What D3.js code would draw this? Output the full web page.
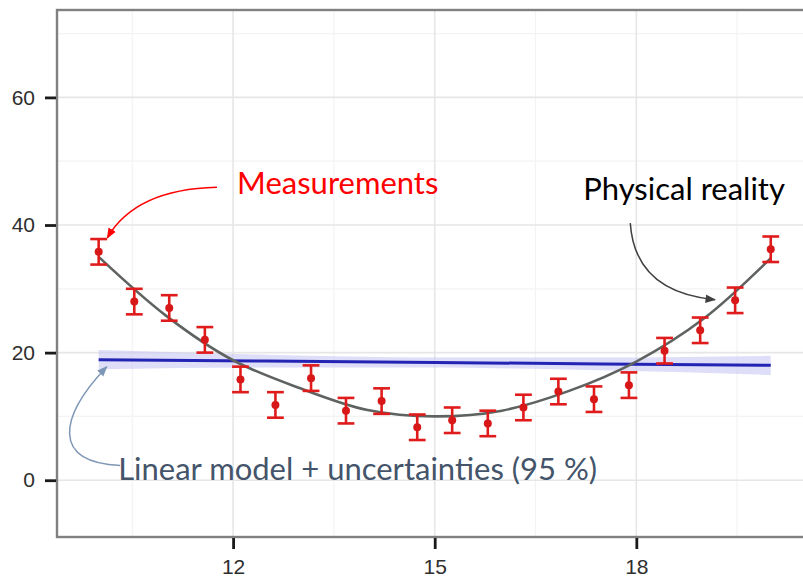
<!DOCTYPE html>
<html>
<head>
<meta charset="utf-8">
<script src="https://cdn.jsdelivr.net/npm/d3@7"></script>
<style>
  body { margin: 0; background: #fff; }
  svg { display: block; }
</style>
</head>
<body>
<script>
// measurements
const xVals = [10.00, 10.53, 11.05, 11.58, 12.11, 12.63, 13.16, 13.68, 14.21, 14.74,
               15.26, 15.79, 16.32, 16.84, 17.37, 17.89, 18.42, 18.95, 19.47, 20.00];
const yVals = [35.8, 28.0, 27.0, 22.0, 15.8, 11.8, 16.0, 10.9, 12.4, 8.3,
               9.4, 8.9, 11.4, 13.9, 12.7, 14.9, 20.3, 23.5, 28.2, 36.2];
const yErr  = [2, 2, 2, 2, 2, 2, 2, 2, 2, 2, 2, 2, 2, 2, 2, 2, 2, 2, 2, 2];

// "physical reality" curve
const realX = [10, 11, 12, 13, 14, 15, 16, 17, 18, 19, 20];
const realY = [35.0, 25.8, 18.8, 14.4, 11.0, 10.0, 10.9, 14.0, 18.6, 25.3, 34.8];

// linear model + 95 % band
const lmX   = [10, 12.5, 15, 17.5, 20];
const lmFit = [18.9, 18.68, 18.45, 18.23, 18.0];
const lmLo  = [17.4, 17.68, 17.65, 17.23, 16.5];
const lmHi  = [20.4, 19.68, 19.25, 19.23, 19.5];

const xTicks = [12, 15, 18];
const yTicks = [0, 20, 40, 60];
const xMinor = [10.5, 13.5, 16.5, 19.5];
const yMinor = [10, 30, 50, 70];

const W = 803, H = 578;
const padL = 57, padT = 10, padB = 537;

let svg = d3.select('body').append('svg').attr('width', W).attr('height', H);

let x = d3.scaleLinear().domain([9.38, 20.48]).range([padL, W]);
let y = d3.scaleLinear().domain([-8.9, 73.7]).range([padB, padT]);

let panel = svg.append('g');
panel.append('rect').attr('x', padL).attr('y', padT)
  .attr('width', W + 20 - padL).attr('height', padB - padT).attr('fill', '#fff');

// grid
panel.selectAll('.vminor').data(xMinor).enter().append('line')
  .attr('x1', d => x(d)).attr('x2', d => x(d)).attr('y1', padT).attr('y2', padB)
  .attr('stroke', '#f3f3f3').attr('stroke-width', 1.2);
panel.selectAll('.hminor').data(yMinor).enter().append('line')
  .attr('y1', d => y(d)).attr('y2', d => y(d)).attr('x1', padL).attr('x2', W + 20)
  .attr('stroke', '#f3f3f3').attr('stroke-width', 1.2);
panel.selectAll('.vmajor').data(xTicks).enter().append('line')
  .attr('x1', d => x(d)).attr('x2', d => x(d)).attr('y1', padT).attr('y2', padB)
  .attr('stroke', '#e6e6e6').attr('stroke-width', 1.6);
panel.selectAll('.hmajor').data(yTicks).enter().append('line')
  .attr('y1', d => y(d)).attr('y2', d => y(d)).attr('x1', padL).attr('x2', W + 20)
  .attr('stroke', '#e6e6e6').attr('stroke-width', 1.6);

// confidence band + linear fit
let lmData = lmX.map((d, i) => ({x: d, fit: lmFit[i], lo: lmLo[i], hi: lmHi[i]}));
svg.append('path').datum(lmData)
  .attr('d', d3.area().x(d => x(d.x)).y0(d => y(d.lo)).y1(d => y(d.hi)).curve(d3.curveMonotoneX))
  .attr('fill', '#c8c8f4').attr('opacity', 0.6);
svg.append('path').datum(lmData)
  .attr('d', d3.line().x(d => x(d.x)).y(d => y(d.fit)))
  .attr('fill', 'none').attr('stroke', '#2424b4').attr('stroke-width', 3);

// reality curve
svg.append('path').datum(realX.map((d, i) => [d, realY[i]]))
  .attr('d', d3.line().x(d => x(d[0])).y(d => y(d[1])).curve(d3.curveCatmullRom))
  .attr('fill', 'none').attr('stroke', '#5f6360').attr('stroke-width', 2.6);

// error bars
let pts = xVals.map((d, i) => ({x: d, y: yVals[i], e: yErr[i]}));
let capHalf = 0.125;
let eb = svg.append('g').attr('stroke', '#e01b1b').attr('stroke-width', 2.6).attr('fill', 'none');
eb.selectAll('.v').data(pts).enter().append('line')
  .attr('x1', d => x(d.x)).attr('x2', d => x(d.x))
  .attr('y1', d => y(d.y - d.e)).attr('y2', d => y(d.y + d.e));
eb.selectAll('.t').data(pts).enter().append('line')
  .attr('x1', d => x(d.x - capHalf)).attr('x2', d => x(d.x + capHalf))
  .attr('y1', d => y(d.y + d.e)).attr('y2', d => y(d.y + d.e));
eb.selectAll('.b').data(pts).enter().append('line')
  .attr('x1', d => x(d.x - capHalf)).attr('x2', d => x(d.x + capHalf))
  .attr('y1', d => y(d.y - d.e)).attr('y2', d => y(d.y - d.e));
svg.append('g').selectAll('circle').data(pts).enter().append('circle')
  .attr('cx', d => x(d.x)).attr('cy', d => y(d.y)).attr('r', 4)
  .attr('fill', '#d81818');

// panel border
svg.append('rect').attr('x', padL).attr('y', padT)
  .attr('width', W + 20 - padL).attr('height', padB - padT)
  .attr('fill', 'none').attr('stroke', '#808080').attr('stroke-width', 2.4);

// axes
let xAxis = svg.append('g').attr('transform', `translate(0,${padB + 1})`)
  .call(d3.axisBottom(x).tickValues(xTicks).tickSize(11).tickPadding(10));
let yAxis = svg.append('g').attr('transform', `translate(${padL - 1},0)`)
  .call(d3.axisLeft(y).tickValues(yTicks).tickSize(11).tickPadding(10));
[xAxis, yAxis].forEach(a => {
  a.select('.domain').remove();
  a.selectAll('.tick line').attr('stroke', '#1a1a1a').attr('stroke-width', 2.8);
  a.selectAll('.tick text').attr('fill', '#2e2e2e')
    .attr('font-family', 'Liberation Sans, Arial, sans-serif').attr('font-size', 21);
});

// annotations
let defs = svg.append('defs');
function marker(id, color) {
  defs.append('marker').attr('id', id).attr('viewBox', '0 0 10 10')
    .attr('refX', 9).attr('refY', 5).attr('markerWidth', 7).attr('markerHeight', 7)
    .attr('orient', 'auto-start-reverse')
    .append('path').attr('d', 'M0,1 L10,5 L0,9 Z').attr('fill', color);
}
marker('arRed', '#ff0000');
marker('arGrey', '#404040');
marker('arBlue', '#7f97b6');

function label(txt, tx, ty, color) {
  svg.append('text').attr('x', x(tx)).attr('y', y(ty)).text(txt)
    .attr('fill', color).attr('font-family', 'Lato, Carlito, sans-serif').attr('font-size', 31);
}
label('Measurements', 12.06, 44.8, '#ff0000');
label('Physical reality', 17.21, 43.9, '#000');
label('Linear model + uncertainties (95 %)', 10.29, 0.0, '#44546a');

function arrow(p0, color, id) {
  let p = p0.map(d => [x(d[0]), y(d[1])]);
  let d = p.length === 3
    ? `M${p[0]} Q${p[1]} ${p[2]}`
    : `M${p[0]} C${p[1]} ${p[2]} ${p[3]}`;
  svg.append('path').attr('d', d).attr('fill', 'none').attr('stroke', color)
    .attr('stroke-width', 1.5).attr('marker-end', `url(#${id})`);
}
arrow([[11.76, 45.9], [10.55, 45.6], [10.13, 38.0]], '#ff0000', 'arRed');
arrow([[17.91, 40.3], [17.98, 29.5], [19.17, 28.3]], '#404040', 'arGrey');
arrow([[10.32, 2.3], [9.3, 2.8], [9.4, 9.8], [10.12, 17.8]], '#7f97b6', 'arBlue');
</script>
</body>
</html>
